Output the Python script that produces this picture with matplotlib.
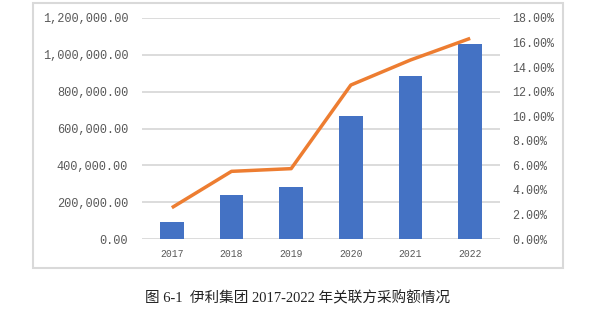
import matplotlib.pyplot as plt
from matplotlib.patches import Rectangle
from matplotlib.ticker import FuncFormatter

# 数据
years = ['2017', '2018', '2019', '2020', '2021', '2022']
purchase_amount = [92000, 239000, 282000, 668000, 885000, 1060000]
purchase_ratio = [2.55, 5.51, 5.73, 12.54, 14.58, 16.34]

caption = '图 6-1  伊利集团 2017-2022 年关联方采购额情况'

tick_color = '#595959'
grid_color = '#d9d9d9'
mono = 'Liberation Mono'

fig = plt.figure(figsize=(5.96, 3.18), dpi=100)

# 外框
fig.patches.append(Rectangle((33 / 596, 50 / 318), 530 / 596, 265 / 318,
                             transform=fig.transFigure, fill=False,
                             edgecolor=grid_color, linewidth=1.5))

ax = fig.add_axes([142 / 596, 79 / 318, 358 / 596, 221 / 318])
x = list(range(len(years)))
ax.bar(x, purchase_amount, width=0.4, color='#4472C4', zorder=2)
ax.set_xlim(-0.5, len(years) - 0.5)
ax.set_ylim(0, 1200000)
ax.set_yticks(range(0, 1200001, 200000))
ax.yaxis.set_major_formatter(FuncFormatter(lambda v, p: f'{v:,.2f}'))
ax.grid(axis='y', color=grid_color, linewidth=1.3, zorder=0)
ax.set_axisbelow(True)
ax.set_xticks(x)
ax.set_xticklabels(years)
for s in ax.spines.values():
    s.set_visible(False)
ax.tick_params(axis='y', length=0, pad=10, labelsize=8.6, colors=tick_color)
ax.tick_params(axis='x', length=0, pad=7, labelsize=7, colors=tick_color)
for lab in ax.get_yticklabels() + ax.get_xticklabels():
    lab.set_family(mono)

ax2 = ax.twinx()
ax2.plot(x, purchase_ratio, color='#ED7D31', linewidth=2.5, solid_capstyle='butt')
ax2.set_ylim(0, 18)
ax2.set_yticks(range(0, 19, 2))
ax2.yaxis.set_major_formatter(FuncFormatter(lambda v, p: f'{v:.2f}%'))
for s in ax2.spines.values():
    s.set_visible(False)
ax2.tick_params(axis='y', length=0, pad=9, labelsize=8.4, colors=tick_color)
for lab in ax2.get_yticklabels():
    lab.set_family(mono)

fig.text(0.5, 20 / 318, caption, ha='center', va='center', fontsize=10.5,
         family=['Liberation Serif', 'Noto Sans CJK SC'], color='#222222')

plt.savefig('out.png', dpi=100)
